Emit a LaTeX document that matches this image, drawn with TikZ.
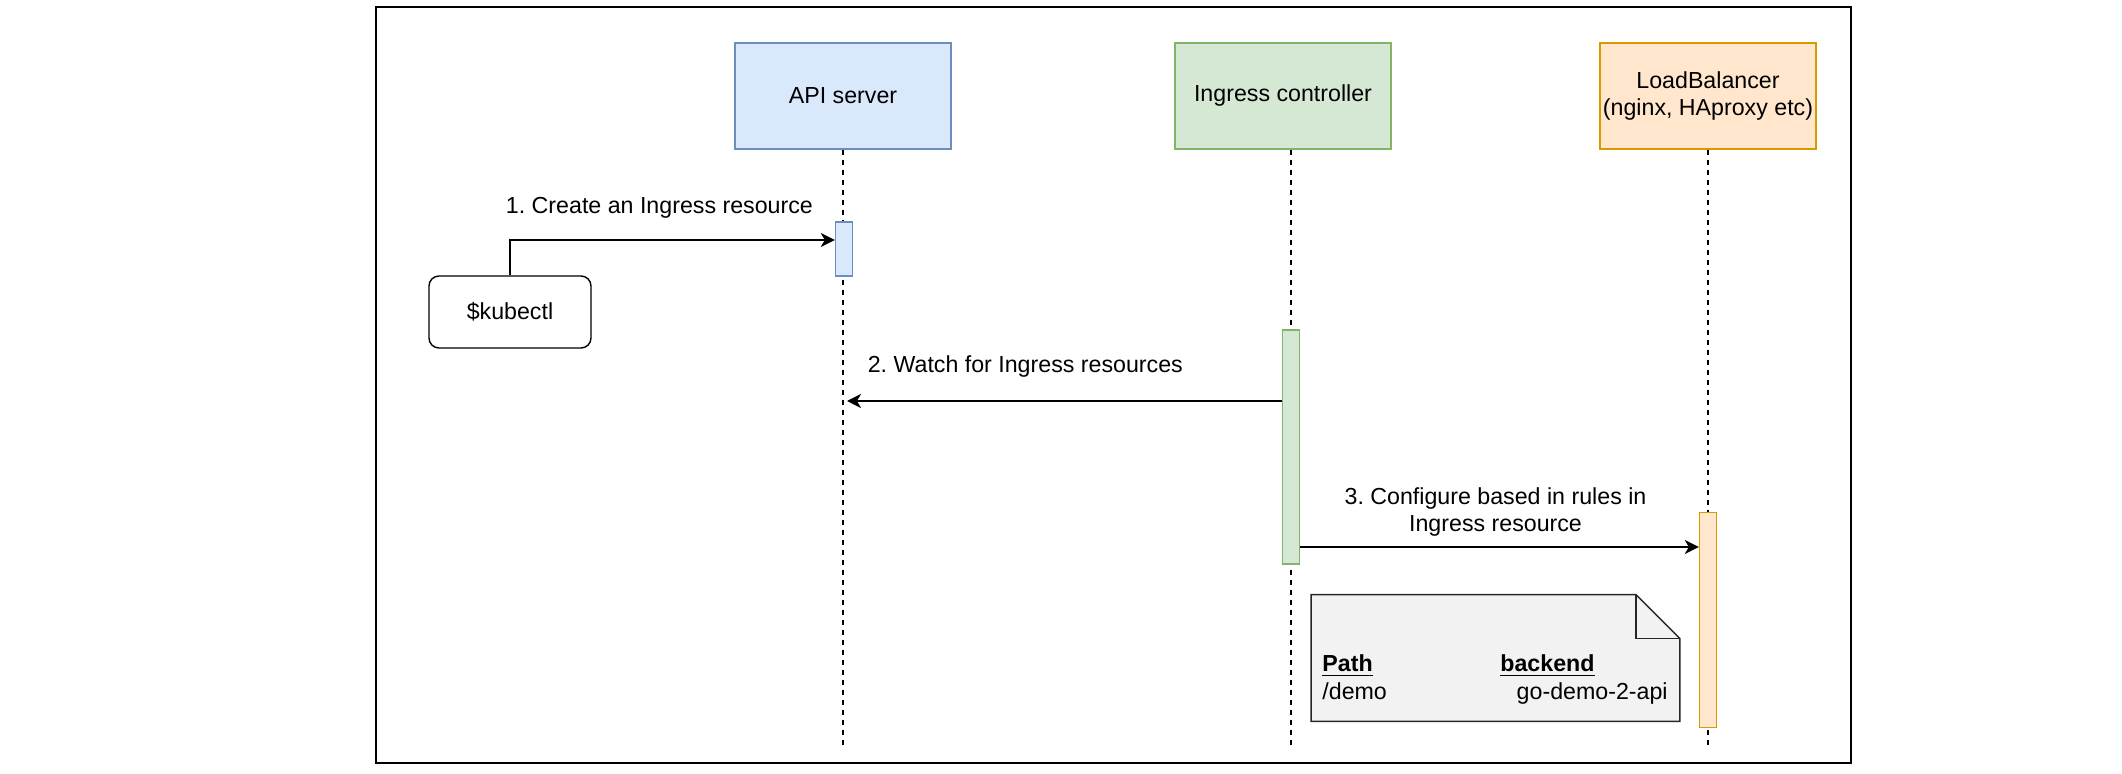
\documentclass[tikz,border=0pt]{standalone}
\usepackage{fontspec}
\setmainfont{Liberation Sans}
\usetikzlibrary{arrows.meta,positioning}

\definecolor{apifill}{HTML}{DAE8FC}
\definecolor{apiline}{HTML}{6C8EBF}
\definecolor{ctrlfill}{HTML}{D5E8D4}
\definecolor{ctrlline}{HTML}{82B366}
\definecolor{lbfill}{HTML}{FFE6CC}
\definecolor{lbline}{HTML}{D79B00}
\definecolor{notefill}{HTML}{F2F2F2}

\begin{document}
\begin{tikzpicture}[x=0.5pt, y=-0.5pt,
  font=\fontsize{11.6pt}{13.6pt}\selectfont\frenchspacing,
  actor/.style={draw, line width=0.7pt, minimum width=108pt, minimum height=53pt, inner xsep=1pt, align=center},
  act/.style={draw, line width=0.7pt, minimum width=8.5pt, inner sep=0pt},
  life/.style={dash pattern=on 2.5pt off 2.5pt, line width=0.55pt},
  msg/.style={-{Stealth[length=7pt, width=7pt, inset=2pt]}, line width=0.7pt},
  lbl/.style={inner sep=0pt, align=center}]

\useasboundingbox (0,0) rectangle (2122,774);
\draw [line width=1pt] (376,7) rectangle (1851,763);

% participants
\node [actor, fill=apifill, draw=apiline] (api) at (843,96) {API server};
\node [actor, fill=ctrlfill, draw=ctrlline] (ctrl) at (1283,96) {Ingress controller};
\node [actor, fill=lbfill, draw=lbline] (lb) at (1708,96) {LoadBalancer\\(nginx, HAproxy etc)};
\node [draw, line width=0.7pt, rounded corners=5pt, minimum width=81pt, minimum height=36pt] (kubectl) at (510,312) {\$kubectl};

\coordinate (bottom) at (0,746);

% lifelines
\draw [life] (api.south) -- (api.south |- bottom);
\draw [life] (ctrl.south -| 1291,0) -- (1291,0 |- bottom);
\draw [life] (lb.south) -- (lb.south |- bottom);

% activations
\node [act, fill=apifill, draw=apiline, minimum height=27pt] (apiact) at (844,249) {};
\node [act, fill=ctrlfill, draw=ctrlline, minimum height=117pt] (ctrlact) at (1291,447) {};
\node [act, fill=lbfill, draw=lbline, minimum height=107.5pt] (lbact) at (1708,620) {};

% messages
\draw [msg] (kubectl.north) |- node [lbl, above=10.3pt, pos=0.73] (msg1) {1. Create an Ingress resource} ([yshift=4.5pt]apiact.west);
\draw [msg] ([yshift=23pt]ctrlact.west) -- node [lbl, above=11.3pt, pos=0.59] (msg2) {2. Watch for Ingress resources} ([xshift=2pt, yshift=23pt]ctrlact.west -| api.south);
\draw [msg] ([yshift=-50pt]ctrlact.east) -- node [lbl, above=4.9pt, pos=0.49] (msg3) {3. Configure based in rules in\\Ingress resource} ([yshift=-50pt]ctrlact.east -| lbact.west);

% note
\node [minimum width=184pt, minimum height=63pt, inner sep=0pt] (note) at (1495.5,658) {};
\filldraw [fill=notefill, draw=black!85, line width=0.7pt] (note.north west) -- ([xshift=-22pt]note.north east) -- ([yshift=-22pt]note.north east) -- (note.south east) -- (note.south west) -- cycle;
\draw [draw=black!85, line width=0.7pt] ([xshift=-22pt]note.north east) |- ([yshift=-22pt]note.north east);
\node [lbl, anchor=base west] (pathhead) at (1322,672) {\underline{\textbf{Path}}};
\node [lbl, anchor=base west] (backhead) at (1500,672) {\underline{\textbf{backend}}};
\node [lbl, anchor=base west] (pathval) at (1322,700) {/demo};
\node [lbl, anchor=base east] (backval) at (1668,700) {go-demo-2-api};
\end{tikzpicture}
\end{document}
